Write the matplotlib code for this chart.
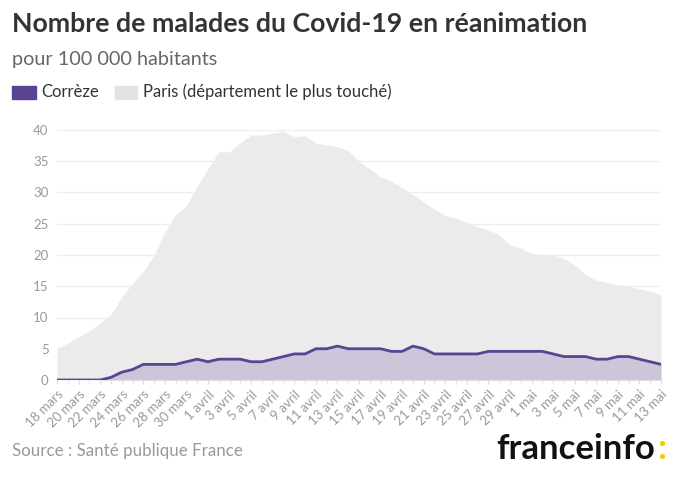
import matplotlib
matplotlib.use("Agg")
import matplotlib.pyplot as plt
from matplotlib.patches import Rectangle
import numpy as np

# Dates: 18 mars -> 13 mai (daily)
dates = ([f"{d} mars" for d in range(18, 32)] +
         [f"{d} avril" for d in range(1, 31)] +
         [f"{d} mai" for d in range(1, 14)])

paris = [5.0, 5.9, 6.9, 7.9, 9.1, 10.5, 13.3, 15.5, 17.3, 20.0,
         23.7, 26.5, 27.9, 31.0, 33.8, 36.5, 36.5, 38.0, 39.2, 39.2,
         39.5, 39.8, 38.9, 39.1, 37.9, 37.6, 37.3, 36.7, 35.0, 33.8,
         32.5, 31.8, 30.8, 29.7, 28.5, 27.3, 26.3, 25.9, 25.2, 24.5,
         24.0, 23.2, 21.6, 21.1, 20.3, 20.0, 20.0, 19.4, 18.4, 16.8,
         16.0, 15.6, 15.2, 15.0, 14.6, 14.2, 13.6]

correze = [0, 0, 0, 0, 0, 0.42, 1.25, 1.67, 2.5, 2.5,
           2.5, 2.5, 2.92, 3.33, 2.92, 3.33, 3.33, 3.33, 2.92, 2.92,
           3.33, 3.75, 4.17, 4.17, 5.0, 5.0, 5.42, 5.0, 5.0, 5.0,
           5.0, 4.58, 4.58, 5.42, 5.0, 4.17, 4.17, 4.17, 4.17, 4.17,
           4.58, 4.58, 4.58, 4.58, 4.58, 4.58, 4.17, 3.75, 3.75, 3.75,
           3.33, 3.33, 3.75, 3.75, 3.33, 2.92, 2.5]

yticks = [0, 5, 10, 15, 20, 25, 30, 35, 40]

title = "Nombre de malades du Covid-19 en réanimation"
subtitle = "pour 100 000 habitants"
legend_labels = ["Corrèze", "Paris (département le plus touché)"]
source = "Source : Santé publique France"

PURPLE = "#5a4393"
PURPLE_FILL = "#cdc6da"
GRAY_FILL = "#ebebeb"
TXT = "#333333"
MUTED = "#999999"

plt.rcParams['font.family'] = ['Lato', 'DejaVu Sans']

fig = plt.figure(figsize=(6.8, 4.8), dpi=100)
W, H = 680, 480
ax = fig.add_axes([57 / W, 1 - 380 / H, (661 - 57) / W, 250 / H])

x = np.arange(len(dates))
ax.fill_between(x, paris, 0, color=GRAY_FILL, lw=0, zorder=1)
ax.fill_between(x, correze, 0, color=PURPLE_FILL, lw=0, zorder=2)
ax.plot(x, correze, color=PURPLE, lw=2, zorder=3, solid_joinstyle='round')

ax.set_xlim(0, len(dates) - 1)
ax.set_ylim(0, 40)
ax.set_yticks(yticks)
ax.set_yticklabels([str(v) for v in yticks])
ax.grid(axis='y', color='#eeeeee', lw=1, zorder=0)
ax.set_axisbelow(True)
for s in ax.spines.values():
    s.set_visible(False)
ax.tick_params(axis='y', length=0, labelsize=9.5, labelcolor=MUTED, pad=6)

ax.set_xticks(x, minor=True)
ax.set_xticks(x[::2])
ax.set_xticklabels(dates[::2], rotation=45, ha='right', rotation_mode='anchor')
ax.tick_params(axis='x', which='both', length=3, color='#dddddd',
               labelsize=9.5, labelcolor=MUTED, pad=3)

# Title, subtitle
fig.text(12 / W, 1 - 24 / H, title, fontsize=19.3, weight='bold', color=TXT,
         va='center', ha='left')
fig.text(12 / W, 1 - 60 / H, subtitle, fontsize=14.3, color='#666666',
         va='center', ha='left')

# Legend
fig.patches.append(Rectangle((12 / W, 1 - 99 / H), 24 / W, 13 / H,
                             transform=fig.transFigure, color=PURPLE))
fig.text(41 / W, 1 - 92 / H, legend_labels[0], fontsize=12, color=TXT,
         va='center', ha='left')
fig.patches.append(Rectangle((115 / W, 1 - 99 / H), 22 / W, 13 / H,
                             transform=fig.transFigure, color='#e3e3e3'))
fig.text(143 / W, 1 - 92 / H, legend_labels[1], fontsize=12, color=TXT,
         va='center', ha='left')

# Source
fig.text(12 / W, 1 - 451 / H, source, fontsize=12.2, color=MUTED,
         va='center', ha='left')

# Logo
fig.text(655 / W, 1 - 449 / H, "franceinfo", fontsize=25, weight='bold',
         color='#111111', va='center', ha='right')
fig.text(657 / W, 1 - 449 / H, ":", fontsize=25, weight='bold',
         color='#f7c600', va='center', ha='left')

fig.savefig("out.png", dpi=100)
